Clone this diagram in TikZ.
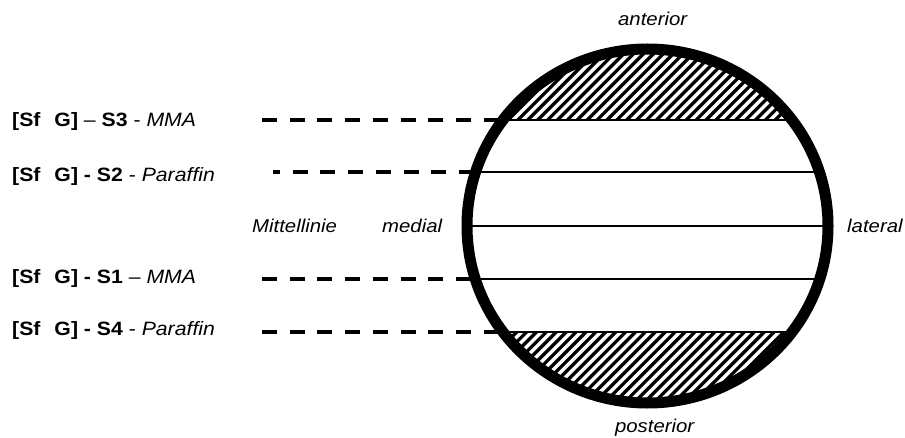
\documentclass[tikz,border=0pt]{standalone}
\usepackage{fontspec}
\setmainfont{Liberation Sans}[FakeStretch=1.1]
\begin{document}
\begin{tikzpicture}[x=1pt,y=-1pt,
  lbl/.style={font=\fontsize{18.5}{22}\selectfont, inner sep=0pt},
  side/.style={font=\fontsize{19.3}{23}\selectfont, inner sep=0pt},
  rim/.style={line width=11pt},
  chord/.style={line width=2pt},
  guide/.style={line width=4pt, dash pattern=on 15pt off 12.7pt},
  hatch/.style={line width=3.3pt}]
\useasboundingbox (0,0) rectangle (905,438);
\coordinate (c) at (647.5,226);
% hatched segments
\begin{scope}
  \clip (0,0) rectangle (905,120);
  \clip (c) ellipse [x radius=180.5, y radius=177];
  \foreach \i in {0,...,70} {\draw[hatch] (300+\i*9.9,130) -- ++(130,-130);}
\end{scope}
\begin{scope}
  \clip (0,332) rectangle (905,438);
  \clip (c) ellipse [x radius=180.5, y radius=177];
  \foreach \i in {0,...,70} {\draw[hatch] (300+\i*9.9,420) -- ++(100,-100);}
\end{scope}
% chord end points
\coordinate (l3) at (502.95,120); \coordinate (r3) at (792.05,120);
\coordinate (l2) at (475.6,172);  \coordinate (r2) at (819.4,172);
\coordinate (lm) at (467,226);    \coordinate (rm) at (828,226);
\coordinate (l1) at (475.3,279);  \coordinate (r1) at (819.7,279);
\coordinate (l4) at (502.95,332); \coordinate (r4) at (792.05,332);
\draw[chord] (l3) -- (r3);
\draw[chord] (l2) -- (r2);
\draw[chord] (lm) -- (rm);
\draw[chord] (l1) -- (r1);
\draw[chord] (l4) -- (r4);
% circle
\draw[rim] (c) ellipse [x radius=180.5, y radius=177];
% dashed guides
\coordinate (d3) at (262,120);
\coordinate (d2) at (273,172);
\coordinate (d1) at (262,279);
\coordinate (d4) at (262,332);
\draw[guide] (d3) -- (l3);
\draw[guide, dash phase=8pt] (d2) -- (l2);
\draw[guide] (d1) -- (l1);
\draw[guide] (d4) -- (l4);
% labels
\node[side, anchor=base west] (t3) at (12,126.5) {\textbf{[Sf\hspace{14pt}G]} – \textbf{S3} - \textit{MMA}};
\node[side, anchor=base west] (t2) at (12,181.7) {\textbf{[Sf\hspace{14pt}G] - S2} - \textit{Paraffin}};
\node[side, anchor=base west] (t1) at (12,283.3) {\textbf{[Sf\hspace{14pt}G] - S1} – \textit{MMA}};
\node[side, anchor=base west] (t4) at (12,335) {\textbf{[Sf\hspace{14pt}G] - S4} - \textit{Paraffin}};
\node[lbl, anchor=base] (ant) at (653,26) {\textit{anterior}};
\node[lbl, anchor=base] (post) at (655,432) {\textit{posterior}};
\node[lbl, anchor=base west] (mit) at (252,233) {\textit{Mittellinie}};
\node[lbl, anchor=base west] (med) at (382,233) {\textit{medial}};
\node[lbl, anchor=base west] (lat) at (847,233) {\textit{lateral}};
\end{tikzpicture}
\end{document}
